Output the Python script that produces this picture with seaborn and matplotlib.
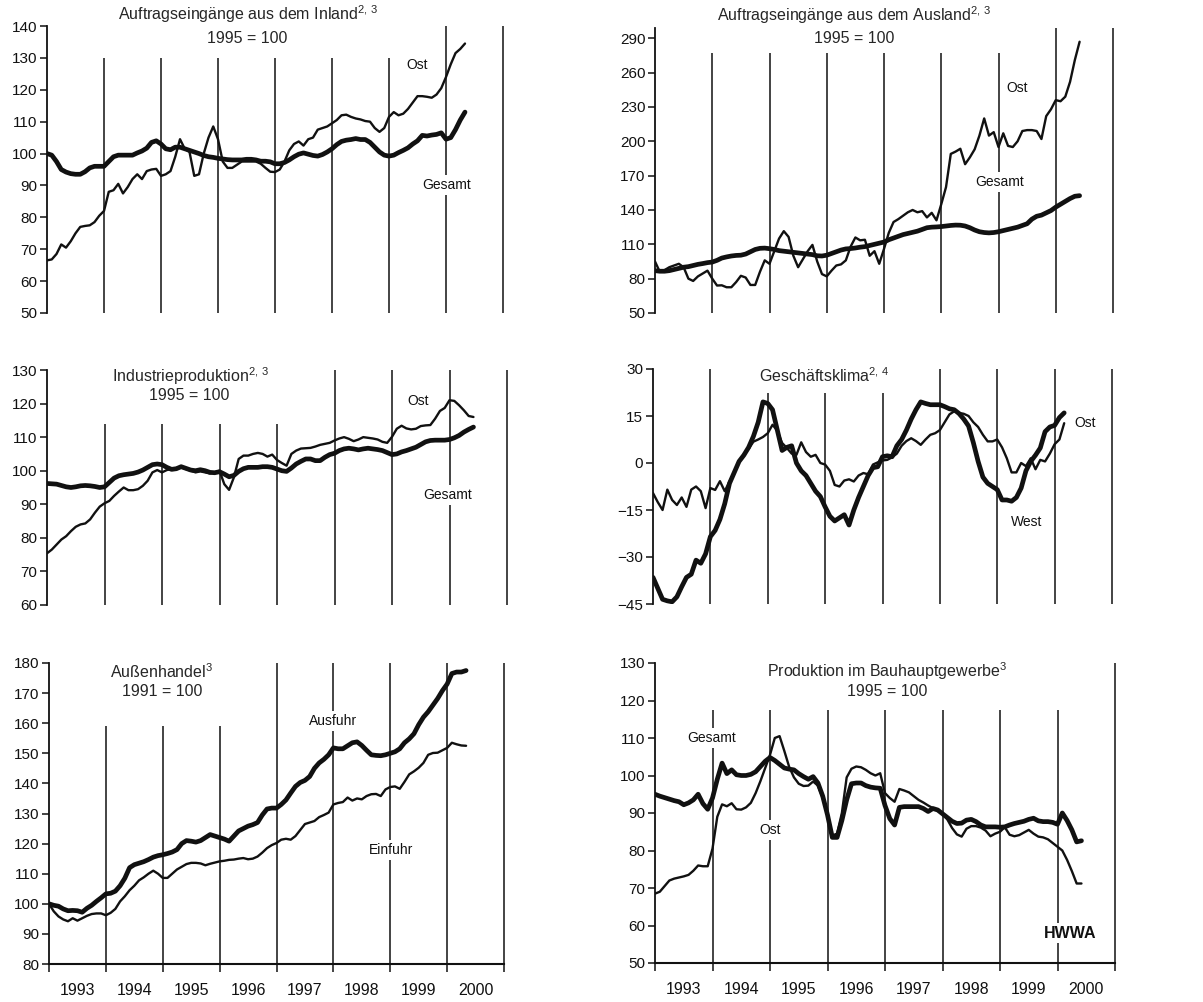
import numpy as np
import pandas as pd
import matplotlib
matplotlib.use('Agg')
import matplotlib.pyplot as plt
import seaborn as sns

sns.set_style('white')
plt.rcParams['font.family'] = ['Liberation Sans', 'DejaVu Sans']
plt.rcParams['mathtext.fontset'] = 'custom'
plt.rcParams['mathtext.rm'] = 'Liberation Sans'
plt.rcParams['mathtext.it'] = 'Liberation Sans'

# monthly values, Jan 1993 onwards
inland_gesamt = [100, 99.5, 97.5, 95, 94.2, 93.7, 93.5, 93.5, 94.3, 95.5, 96, 96,
                 96, 97.5, 99, 99.5, 99.5, 99.5, 99.5, 100.2, 100.8, 101.7, 103.5, 104,
                 103, 101.5, 101.2, 102, 102, 101.5, 101, 100.5, 100, 99.4, 99, 98.8,
                 98.5, 98.3, 98.1, 98, 98, 98, 98.2, 98.2, 98, 97.6, 97.6, 97.4,
                 96.8, 96.8, 97.2, 98, 99, 99.8, 100.2, 99.8, 99.4, 99.2, 99.7, 100.5,
                 101.5, 102.8, 103.8, 104.2, 104.4, 104.7, 104.4, 104.4, 103.5, 102, 100.5, 99.5,
                 99.2, 99.5, 100.3, 101, 101.8, 103, 104, 105.7, 105.5, 105.8, 106, 106.5,
                 104.5, 105, 107.5, 110.5, 113]
inland_ost = [66.5, 66.8, 68.5, 71.5, 70.5, 72.5, 75, 77, 77.3, 77.5, 78.5, 80.5,
              82, 88, 88.5, 90.5, 87.5, 89.5, 92, 93.5, 92, 94.5, 95, 95.2,
              93, 93.5, 94.5, 99, 104.5, 101.5, 100.5, 93, 93.5, 100, 105, 108.5,
              104.5, 97.5, 95.5, 95.5, 96.5, 97.5, 97.5, 97.5, 97.5, 96.8, 95.5, 94.3,
              94.2, 95, 97.5, 101, 103, 103.8, 102.5, 104.5, 105, 107.5, 108, 108.5,
              109.5, 110.5, 112, 112.2, 111.5, 111, 110.7, 110.2, 110, 108, 106.8, 108,
              111.5, 113, 112, 112.5, 114, 116, 118, 118, 117.8, 117.5, 118.5, 120.5,
              124, 128, 131.5, 132.8, 134.5]

ausland_gesamt = [87, 86.5, 86.5, 87, 88, 89, 90, 90.5, 91.5, 92.5, 93.2, 94,
                  94.5, 96, 98, 99, 99.8, 100.3, 100.5, 101.5, 103.5, 105.5, 106.5, 106.7,
                  106.2, 105.5, 104.5, 104, 103.5, 103, 102.5, 102, 101.5, 101, 100, 99.8,
                  100.5, 102, 103.5, 105, 106, 106.3, 106.8, 107.5, 108, 109, 110, 111,
                  112, 114, 115.5, 117, 118.5, 119.5, 120.5, 121.5, 123, 124.5, 125, 125.2,
                  125.5, 126, 126.5, 126.8, 126.7, 126, 124.5, 122.5, 121, 120.3, 120, 120.3,
                  121, 122, 123, 124, 125, 126.5, 128, 132, 134.5, 135.5, 137.5, 139.5,
                  142.5, 145, 147.5, 150, 152, 152.5]
ausland_ost = [95, 86, 87.5, 90, 91.5, 93, 90, 80, 78, 82, 84.5, 87,
               80, 74, 74.2, 72.5, 72.5, 77, 82.5, 81, 74.5, 74.5, 86, 96,
               93, 104, 115, 121.5, 116.5, 100, 90, 97, 104, 109.5, 95, 84,
               82, 87, 91.5, 92.5, 96, 108, 116, 113.5, 114, 100, 104, 93,
               106, 120, 129.5, 132, 135, 138, 140, 138, 139, 133.5, 137.5, 131,
               145, 160, 189, 191, 193.5, 180, 186, 193, 205, 220, 205, 208,
               195, 207, 196, 195, 200, 209, 209.8, 209.8, 209, 202, 222, 228,
               236, 235, 239, 252, 271, 287]

ind_gesamt = [96.2, 96.1, 96, 95.6, 95.2, 95, 95.2, 95.5, 95.6, 95.5, 95.3, 95,
              95.2, 96.5, 97.8, 98.5, 98.8, 99, 99.2, 99.6, 100.2, 101, 101.8, 102,
              101.8, 101, 100.4, 100.6, 101.2, 100.7, 100.2, 100, 100.3, 100, 99.5, 99.4,
              99.7, 99, 98.2, 98.6, 99.8, 100.6, 101, 101, 101, 101.2, 101.2, 101,
              100.5, 100, 99.8, 100.8, 102, 102.8, 103.5, 103.5, 103, 103, 104, 104.8,
              105.2, 106, 106.5, 106.7, 106.5, 106.2, 106.5, 106.7, 106.5, 106.3, 106, 105.4,
              104.8, 105, 105.6, 106, 106.5, 107, 107.8, 108.6, 109, 109.1, 109.1, 109.1,
              109.3, 109.8, 110.5, 111.5, 112.3, 113]
ind_ost = [75.4, 76.5, 78, 79.5, 80.5, 82, 83.3, 84, 84.3, 85.5, 87.5, 89.3,
           90.3, 91, 92.5, 93.8, 95, 94.2, 94.2, 94.5, 95.5, 97, 99.5, 100.2,
           99.5, 100.2, 100.5, 100.8, 101, 100.5, 100, 99.5, 99.8, 99.5, 99.2, 99.5,
           100, 96, 94.3, 98, 103.5, 104.5, 104.5, 105, 105.3, 105, 104.2, 104.8,
           103.2, 102.3, 101.5, 105, 106, 106.6, 106.7, 106.8, 107.2, 107.7, 108, 108.3,
           109, 109.6, 110, 109.5, 108.8, 109.3, 110, 109.8, 109.6, 109.3, 108.6, 108.3,
           110.1, 112.5, 113.4, 112.6, 112.3, 112.5, 113.3, 113.5, 113.6, 115.5, 117.8, 118.7,
           121, 120.8, 119.5, 118, 116.3, 116]

klima_west = [-36.5, -40, -43.5, -44, -44.3, -42.7, -39.5, -36.5, -35.5, -31, -32, -29,
              -23.5, -21.5, -18, -13, -6.5, -3, 0.5, 2.5, 5, 8.5, 13, 19.5,
              19, 17, 10.5, 4, 5, 5.5, 0, -2.5, -4, -6.5, -9, -10.7,
              -14, -17, -18.5, -17.5, -16.5, -19.8, -15, -11, -7.5, -4, -1.5, -1.2,
              2, 2.3, 2, 5.5, 7.5, 10.5, 14, 17, 19.5, 19, 18.6, 18.6,
              18.6, 18, 17.3, 17, 15.8, 14, 11.8, 6.5, 0.5, -4.5, -6.5, -7.5,
              -8.5, -11.8, -11.8, -12.2, -11, -8, -2.5, 0.5, 2.5, 4.8, 10, 11.5,
              12, 14.5, 16]
klima_ost = [-9.6, -12.5, -15, -8.5, -11.8, -13.4, -11, -14, -8.5, -7.5, -9, -14.4,
             -8, -8.6, -5.8, -9, -5.9, -3, 0.5, 2.8, 4.5, 6.8, 7.5, 8.3,
             9.5, 12.2, 10.3, 6.4, 4.8, 3, 2.6, 6.6, 3.5, 2, 2.6, 0,
             -0.5, -2.5, -7, -7.5, -5.6, -5.2, -5.9, -4, -3.2, -3.6, -0.5, 0.2,
             0.8, 1, 1.8, 3, 5.5, 7, 7.9, 7, 5.8, 7.5, 9, 9.5,
             10.5, 13, 15.5, 16.5, 16, 15.7, 15, 13, 11.5, 9, 6.9, 6.9,
             7.5, 5, 1.5, -3, -3, 0, -1, 1.5, -2, 1, 0.5, 3,
             6, 7.5, 12.7]

ausfuhr = [100, 99.5, 99.2, 98.3, 97.7, 97.8, 97.7, 97.2, 98.5, 99.5, 100.8, 102,
           103.3, 103.5, 104.2, 106, 108.5, 112, 113, 113.5, 114, 114.7, 115.5, 116,
           116.3, 116.7, 117.2, 118, 120, 121, 120.8, 120.5, 121, 122, 123, 122.5,
           122, 121.5, 120.8, 122.5, 124.2, 125, 125.8, 126.3, 127, 129.5, 131.5, 131.8,
           131.8, 133, 134.5, 136.8, 139, 140.3, 141, 142.3, 145, 146.8, 148, 149.5,
           151.8, 151.5, 151.5, 152.5, 153.5, 153.8, 152.6, 151, 149.5, 149.3, 149.2, 149.5,
           150, 150.5, 151.5, 153.5, 154.8, 156.5, 159.5, 162, 163.8, 166, 168.2, 170.8,
           173, 176.5, 177, 177, 177.5]
einfuhr = [100, 97.5, 95.8, 94.8, 94.2, 95.2, 94.4, 95.2, 96, 96.6, 96.8, 96.8,
           96.2, 97, 98.3, 100.8, 102.5, 104.5, 106, 107.8, 108.8, 110, 111, 110,
           108.6, 108.6, 110, 111.4, 112.3, 113.2, 113.6, 113.6, 113.4, 112.8, 113.3, 113.7,
           114.1, 114.3, 114.6, 114.7, 115, 115.2, 114.8, 115, 115.7, 117, 118.5, 119.5,
           120.2, 121.3, 121.6, 121.3, 122.5, 124.5, 126.5, 127, 127.5, 128.8, 129.5, 130.3,
           133, 133.5, 133.8, 135.3, 134.3, 135, 134.7, 135.8, 136.4, 136.5, 135.8, 138,
           138.8, 139, 138.2, 140.5, 143, 144, 145.2, 146.8, 149.5, 150.1, 150.2, 151,
           151.8, 153.5, 153, 152.6, 152.5]

bau_gesamt = [95, 94.5, 94.1, 93.7, 93.3, 93, 92.2, 92.7, 93.5, 95, 92.5, 91,
              94, 99, 103.3, 100.5, 101.5, 100.2, 100, 100, 100.3, 101, 102.4, 103.8,
              104.8, 104, 103, 102, 101.7, 101.5, 100.5, 99.7, 99, 99.7, 98, 94.5,
              89.5, 83.5, 83.5, 88, 93.5, 97.8, 98, 98, 97.3, 96.9, 96.7, 96.6,
              92, 88.5, 86.8, 91.5, 91.7, 91.7, 91.7, 91.7, 91.2, 90.4, 91.2, 90.8,
              89.8, 88.8, 87.8, 87.2, 87.3, 88.1, 88.3, 87.7, 86.8, 86.3, 86.3, 86.3,
              86.2, 86.3, 86.8, 87.2, 87.5, 87.8, 88.3, 88.6, 87.9, 87.7, 87.7, 87.5,
              87, 90, 88, 85.5, 82.3, 82.6]
bau_ost = [68.5, 69, 70.5, 72, 72.5, 72.8, 73.1, 73.5, 74.6, 76, 75.8, 75.8,
           80.5, 89, 92.3, 91.8, 92.6, 91, 90.9, 91.5, 92.7, 95.3, 98.5, 102,
           105.5, 110, 110.5, 106.5, 102.3, 99.5, 97.8, 97.2, 97.3, 98.4, 97.3, 94,
           89.5, 84, 84.5, 90, 99.5, 101.8, 102.4, 102.2, 101.5, 100.6, 100, 100.6,
           95.3, 94, 93, 96.4, 96, 95.5, 94.5, 93.5, 92.8, 92, 91.3, 90.6,
           89.9, 88.3, 86, 84.3, 83.7, 85.8, 86.5, 86.5, 86.1, 85.3, 83.8, 84.5,
           85, 86.2, 84.2, 83.8, 84.1, 84.8, 85.5, 84.5, 83.7, 83.5, 83, 82,
           81, 80, 77.5, 74.5, 71.2, 71.2]

years = list(range(1993, 2001))
boundaries = list(range(1994, 2002))

W, H = 1203, 1002
fig = plt.figure(figsize=(W / 100, H / 100), dpi=100)


def rect(left, right, top, bottom):
    return [left / W, (H - bottom) / H, (right - left) / W, (bottom - top) / H]


def panel(r, ylim, yticks, thick, thin, vtops, bottom_axis=False):
    ax = fig.add_axes(r)
    for vals, lw in ((thin, 1.7), (thick, 3.4)):
        df = pd.DataFrame({'t': 1993 + np.arange(len(vals)) / 12, 'v': vals})
        sns.lineplot(data=df, x='t', y='v', ax=ax, color='#111111', linewidth=lw,
                     zorder=3, solid_capstyle='round', solid_joinstyle='round')
    ax.vlines(boundaries, ylim[0], vtops, color='#111111', linewidth=1.1,
              zorder=2, clip_on=False)
    ax.set_xlim(1993, 2001)
    ax.set_ylim(*ylim)
    ax.set_yticks(yticks)
    ax.set_xlabel('')
    ax.set_ylabel('')
    for s in ('top', 'right'):
        ax.spines[s].set_visible(False)
    ax.spines['left'].set_linewidth(1.3)
    ax.spines['left'].set_color('#111111')
    ax.tick_params(axis='y', direction='out', length=5, width=1.1, pad=2,
                   labelsize=11, colors='#111111', left=True)
    if bottom_axis:
        ax.spines['bottom'].set_linewidth(1.5)
        ax.spines['bottom'].set_color('#111111')
        ax.set_xticks(list(range(1993, 2002)))
        ax.set_xticklabels([])
        ax.set_xticks([y + 0.5 for y in years], minor=True)
        ax.set_xticklabels([str(y) for y in years], minor=True)
        ax.tick_params(axis='x', which='major', direction='out', length=6,
                       width=1.1, bottom=True, colors='#111111')
        ax.tick_params(axis='x', which='minor', length=0, pad=14, labelsize=11.5,
                       colors='#111111')
    else:
        ax.spines['bottom'].set_visible(False)
        ax.set_xticks([])
    return ax


def label(ax, x, y, s, size=10, weight='normal'):
    ax.text(x, y, s, transform=ax.transAxes, ha='center', va='center',
            fontsize=size, fontweight=weight, color='#111111', zorder=6,
            bbox=dict(facecolor='white', edgecolor='none', pad=2), clip_on=False)


# Auftragseingänge Inland
r1 = rect(47, 503, 26, 313)
ax1 = panel(r1, (50, 140), range(50, 141, 10), inland_gesamt, inland_ost,
            [130] * 6 + [140] * 2)
ax1.text(0.44, 1.04, 'Auftragseingänge aus dem Inland$^{2,\\,3}$', transform=ax1.transAxes,
         ha='center', va='center', fontsize=11.5, clip_on=False)
ax1.text(0.44, 0.958, '1995 = 100', transform=ax1.transAxes, ha='center', va='center',
         fontsize=11.5)
label(ax1, (417 - 47) / 456, (313 - 65) / 287, 'Ost')
label(ax1, (447 - 47) / 456, (313 - 185) / 287, 'Gesamt')

# Auftragseingänge Ausland
r2 = rect(655, 1113, 28, 313)
ax2 = panel(r2, (50, 299), range(50, 291, 30), ausland_gesamt, ausland_ost,
            [277] * 6 + [299] * 2)
ax2.text(0.435, 1.045, 'Auftragseingänge aus dem Ausland$^{2,\\,3}$', transform=ax2.transAxes,
         ha='center', va='center', fontsize=11.5, clip_on=False)
ax2.text(0.435, 0.964, '1995 = 100', transform=ax2.transAxes, ha='center', va='center',
         fontsize=11.5)
label(ax2, (1017 - 655) / 458, (313 - 88) / 285, 'Ost')
label(ax2, (1000 - 655) / 458, (313 - 182) / 285, 'Gesamt')

# Industrieproduktion
r3 = rect(47, 507, 370, 605)
ax3 = panel(r3, (60, 130), range(60, 131, 10), ind_gesamt, ind_ost,
            [114] * 4 + [130] * 4)
ax3.text((190 - 47) / 460, (605 - 376) / 235, 'Industrieproduktion$^{2,\\,3}$',
         transform=ax3.transAxes, ha='center', va='center', fontsize=11.5)
ax3.text((189 - 47) / 460, (605 - 396) / 235, '1995 = 100', transform=ax3.transAxes,
         ha='center', va='center', fontsize=11.5)
label(ax3, (418 - 47) / 460, (605 - 401) / 235, 'Ost')
label(ax3, (448 - 47) / 460, (605 - 495) / 235, 'Gesamt')

# Geschäftsklima
r4 = rect(653, 1112, 369, 604)
ax4 = panel(r4, (-45, 30), range(-45, 31, 15), klima_west, klima_ost,
            [30, 22.3, 22.3, 22.3, 30, 30, 30, 30])
ax4.text((824 - 653) / 459, (604 - 376) / 235, 'Geschäftsklima$^{2,\\,4}$',
         transform=ax4.transAxes, ha='center', va='center', fontsize=11.5)
label(ax4, (1085 - 653) / 459, (604 - 423) / 235, 'Ost')
label(ax4, (1027 - 653) / 459, (604 - 522) / 235, 'West')

# Außenhandel
r5 = rect(49, 504, 663, 964)
ax5 = panel(r5, (80, 180), range(80, 181, 10), ausfuhr, einfuhr,
            [159] * 3 + [180] * 5, bottom_axis=True)
ax5.text((162 - 49) / 455, (964 - 672) / 301, 'Außenhandel$^{3}$', transform=ax5.transAxes,
         ha='center', va='center', fontsize=11.5)
ax5.text((162 - 49) / 455, (964 - 692) / 301, '1991 = 100', transform=ax5.transAxes,
         ha='center', va='center', fontsize=11.5)
label(ax5, (333 - 49) / 455, (964 - 721) / 301, 'Ausfuhr')
label(ax5, (391 - 49) / 455, (964 - 850) / 301, 'Einfuhr')

# Produktion im Bauhauptgewerbe
r6 = rect(655, 1115, 663, 963)
ax6 = panel(r6, (50, 130), range(50, 131, 10), bau_gesamt, bau_ost,
            [117.5] * 7 + [130], bottom_axis=True)
ax6.text((887 - 655) / 460, (963 - 671) / 300, 'Produktion im Bauhauptgewerbe$^{3}$',
         transform=ax6.transAxes, ha='center', va='center', fontsize=11.5)
ax6.text((887 - 655) / 460, (963 - 691) / 300, '1995 = 100', transform=ax6.transAxes,
         ha='center', va='center', fontsize=11.5)
label(ax6, (712 - 655) / 460, (963 - 738) / 300, 'Gesamt')
label(ax6, (770 - 655) / 460, (963 - 830) / 300, 'Ost')
label(ax6, (1070 - 655) / 460, (963 - 933) / 300, 'HWWA', size=11.5, weight='bold')

fig.savefig('out.png', dpi=100, facecolor='white')
